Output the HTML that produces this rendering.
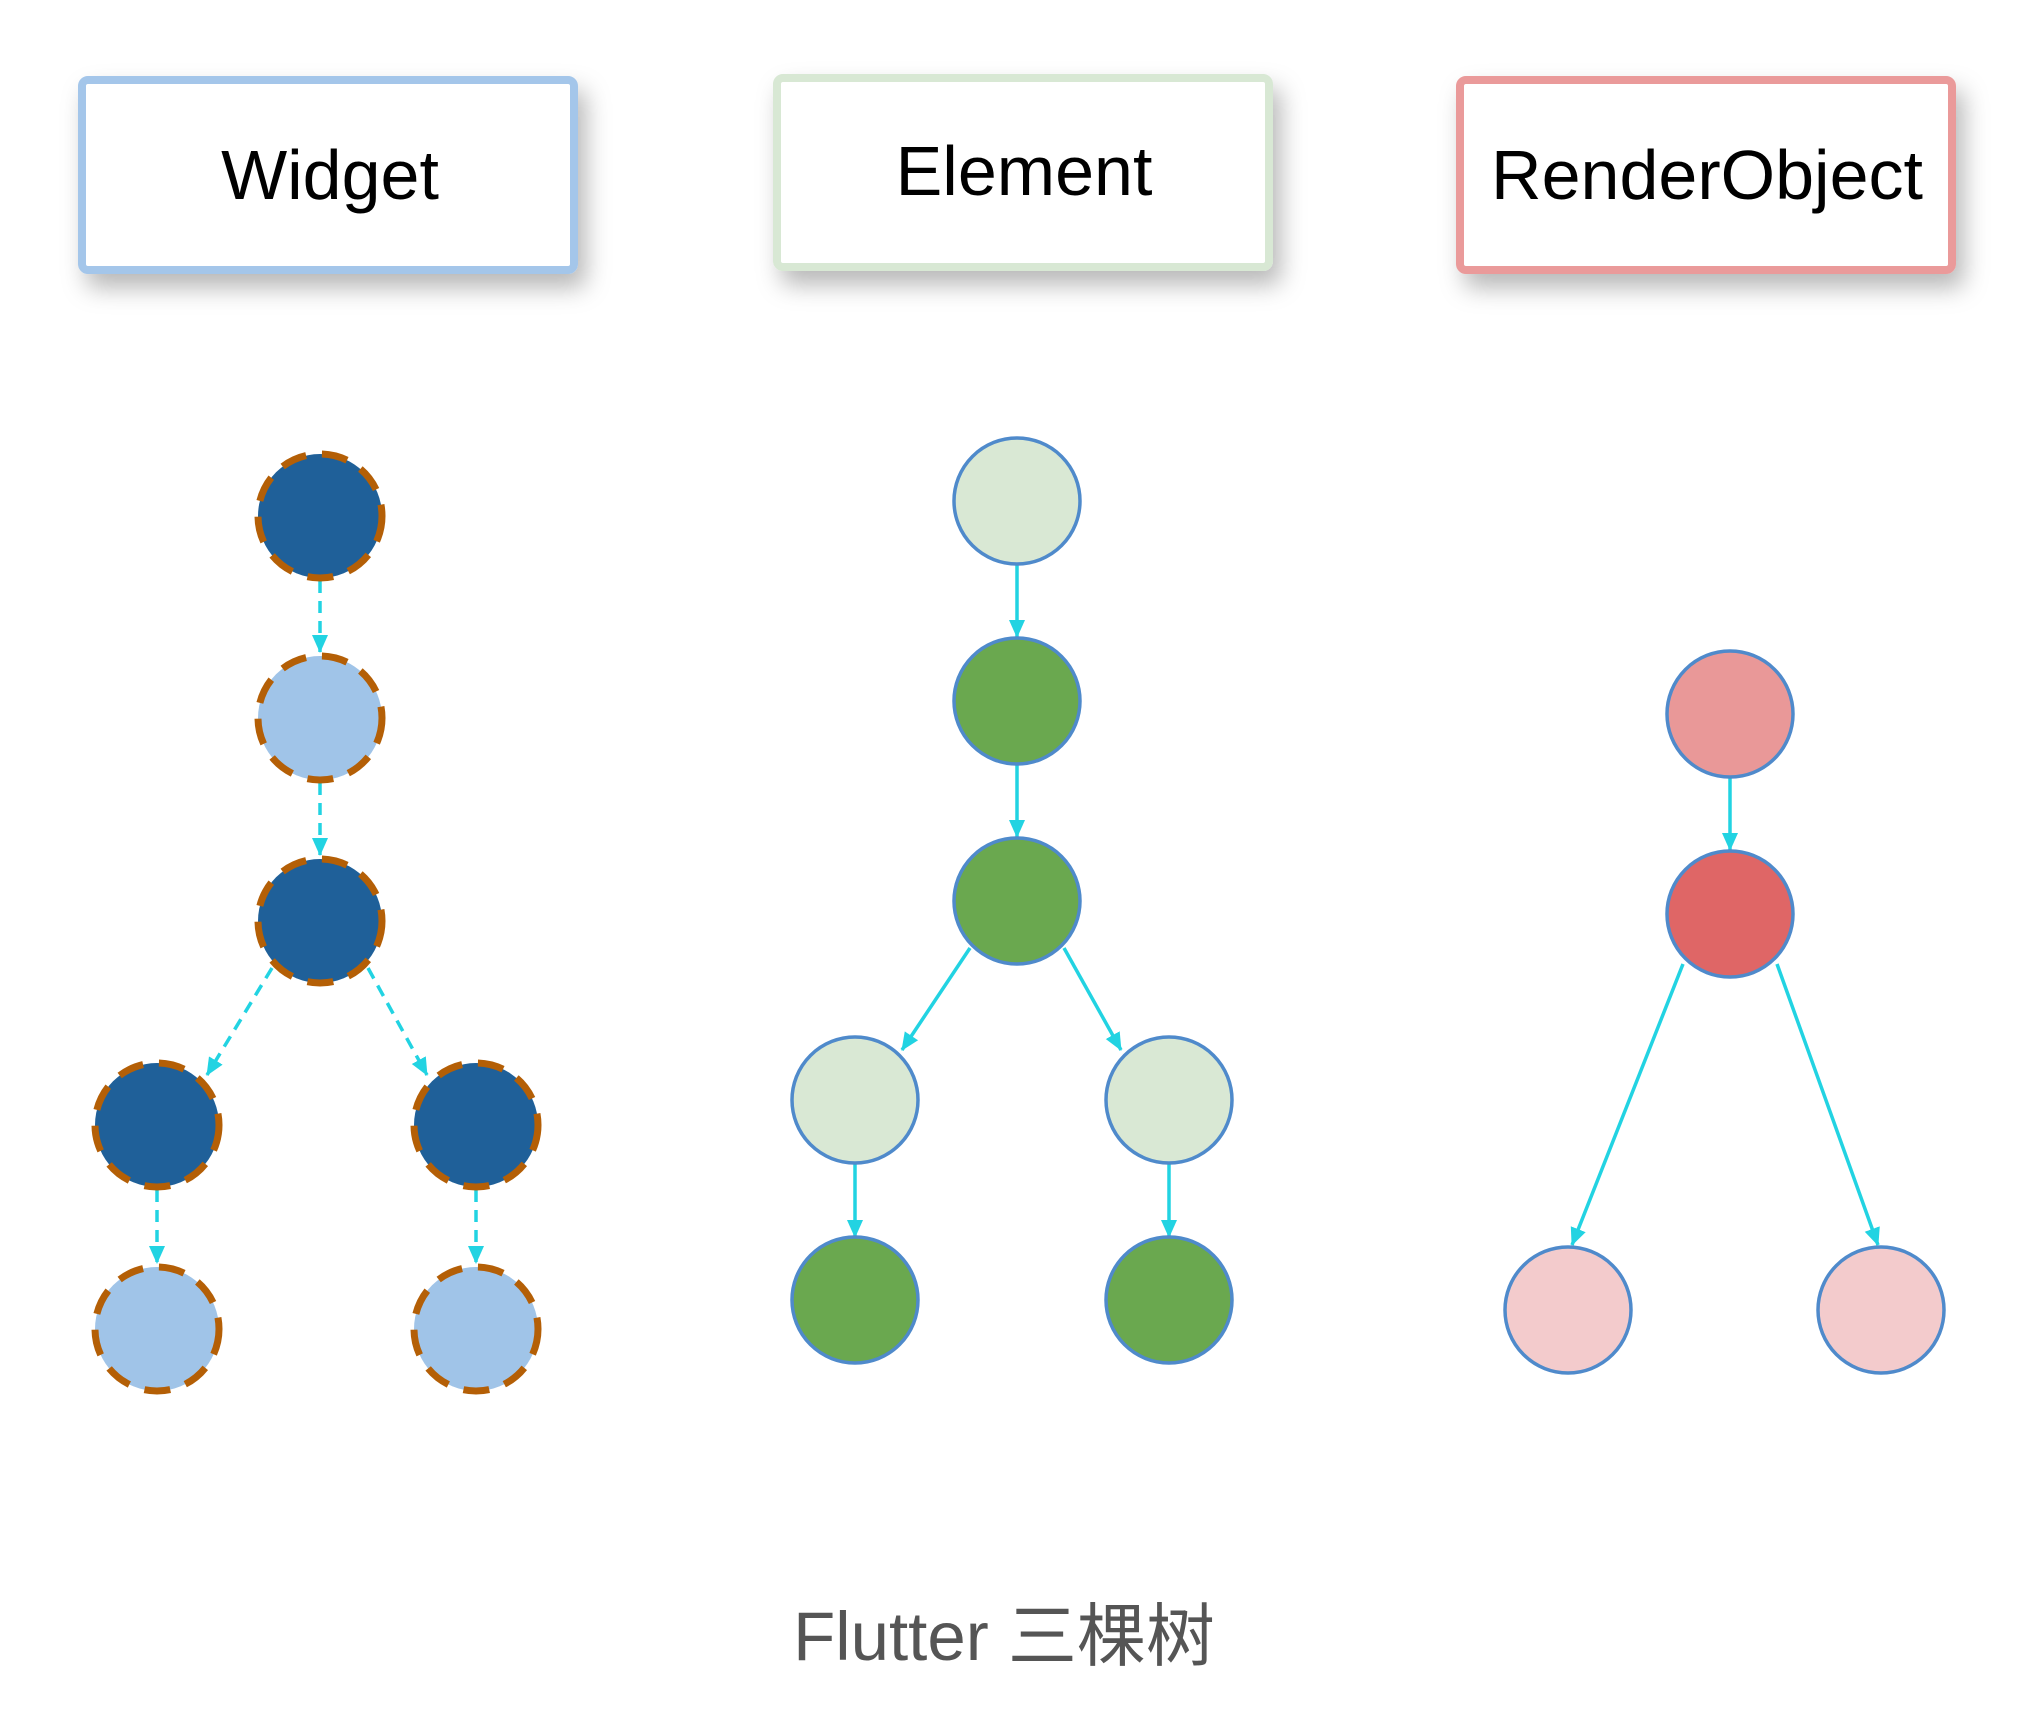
<!DOCTYPE html>
<html><head><meta charset="utf-8"><style>
html,body{margin:0;padding:0;background:#fff;width:2039px;height:1721px;overflow:hidden}
svg{display:block}
</style></head><body>
<svg width="2039" height="1721" viewBox="0 0 2039 1721" xmlns="http://www.w3.org/2000/svg">
<defs>
<filter id="sh" x="-20%" y="-30%" width="150%" height="180%"><feDropShadow dx="8" dy="14" stdDeviation="12" flood-color="#000" flood-opacity="0.28"/></filter>
<marker id="ar2" markerWidth="18" markerHeight="18" refX="17" refY="9" orient="auto" markerUnits="userSpaceOnUse" viewBox="0 0 18 18"><path d="M0,1 L18,9 L0,17 Z" fill="#22d3e2"/></marker>
</defs>
<g font-family="Liberation Sans, sans-serif" font-size="70" text-anchor="middle" fill="#000">
<rect x="82" y="80" width="492" height="190" rx="6" fill="#fff" stroke="#a4c6ea" stroke-width="8" filter="url(#sh)"/>
<text x="330" y="199">Widget</text>
<rect x="777" y="78" width="492" height="189" rx="6" fill="#fff" stroke="#d8e8d4" stroke-width="8" filter="url(#sh)"/>
<text x="1024" y="195">Element</text>
<rect x="1460" y="80" width="492" height="190" rx="6" fill="#fff" stroke="#ea9a9a" stroke-width="8" filter="url(#sh)"/>
<text x="1707" y="199">RenderObject</text>
</g>
<g stroke="#22d3e2" stroke-width="3.5" stroke-dasharray="12 8" fill="none">
<line x1="320" y1="581" x2="320" y2="652" marker-end="url(#ar2)"/>
<line x1="320" y1="783" x2="320" y2="855" marker-end="url(#ar2)"/>
<line x1="272" y1="968" x2="207" y2="1075" marker-end="url(#ar2)"/>
<line x1="368" y1="968" x2="427" y2="1075" marker-end="url(#ar2)"/>
<line x1="157" y1="1190" x2="157" y2="1263" marker-end="url(#ar2)"/>
<line x1="476" y1="1190" x2="476" y2="1263" marker-end="url(#ar2)"/>
</g>
<g stroke="#b45f06" stroke-width="7" stroke-dasharray="26 16">
<circle cx="320" cy="516" r="62" fill="#1f6099"/>
<circle cx="320" cy="718" r="62" fill="#a0c4e8"/>
<circle cx="320" cy="921" r="62" fill="#1f6099"/>
<circle cx="157" cy="1125" r="62" fill="#1f6099"/>
<circle cx="476" cy="1125" r="62" fill="#1f6099"/>
<circle cx="157" cy="1329" r="62" fill="#a0c4e8"/>
<circle cx="476" cy="1329" r="62" fill="#a0c4e8"/>
</g>
<g stroke="#22d3e2" stroke-width="3.5" fill="none">
<line x1="1017" y1="565" x2="1017" y2="637" marker-end="url(#ar2)"/>
<line x1="1017" y1="765" x2="1017" y2="837" marker-end="url(#ar2)"/>
<line x1="970" y1="948" x2="902" y2="1050" marker-end="url(#ar2)"/>
<line x1="1064" y1="948" x2="1121" y2="1050" marker-end="url(#ar2)"/>
<line x1="855" y1="1164" x2="855" y2="1237" marker-end="url(#ar2)"/>
<line x1="1169" y1="1164" x2="1169" y2="1237" marker-end="url(#ar2)"/>
</g>
<g stroke="#4f8acb" stroke-width="3.5">
<circle cx="1017" cy="501" r="63" fill="#d9e8d4"/>
<circle cx="1017" cy="701" r="63" fill="#6aa84f"/>
<circle cx="1017" cy="901" r="63" fill="#6aa84f"/>
<circle cx="855" cy="1100" r="63" fill="#d9e8d4"/>
<circle cx="1169" cy="1100" r="63" fill="#d9e8d4"/>
<circle cx="855" cy="1300" r="63" fill="#6aa84f"/>
<circle cx="1169" cy="1300" r="63" fill="#6aa84f"/>
</g>
<g stroke="#22d3e2" stroke-width="3.5" fill="none">
<line x1="1730" y1="778" x2="1730" y2="850" marker-end="url(#ar2)"/>
<line x1="1683" y1="964" x2="1572" y2="1245" marker-end="url(#ar2)"/>
<line x1="1777" y1="964" x2="1878" y2="1245" marker-end="url(#ar2)"/>
</g>
<g stroke="#4f8acb" stroke-width="3.5">
<circle cx="1730" cy="714" r="63" fill="#e99898"/>
<circle cx="1730" cy="914" r="63" fill="#df6666"/>
<circle cx="1568" cy="1310" r="63" fill="#f3cbcc"/>
<circle cx="1881" cy="1310" r="63" fill="#f3cbcc"/>
</g>
<text x="1004" y="1660" font-family="Liberation Sans, 'Noto Sans CJK SC', sans-serif" font-size="69" fill="#555" text-anchor="middle">Flutter 三棵树</text>
</svg>
</body></html>
